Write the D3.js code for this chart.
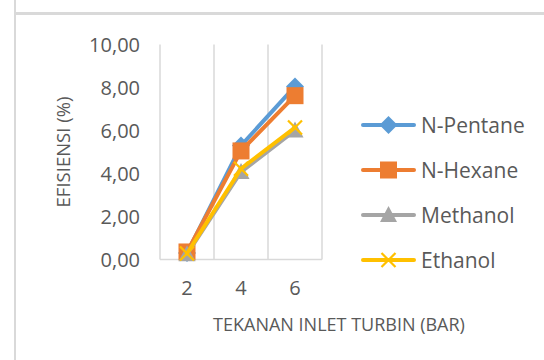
<!DOCTYPE html>
<html>
<head>
<meta charset="utf-8">
<script src="https://cdn.jsdelivr.net/npm/d3@7"></script>
<style>
  html, body { margin: 0; padding: 0; background: #fff; }
  svg { display: block; }
  text { font-family: "Open Sans", Lato, sans-serif; fill: #595959; }
</style>
</head>
<body>
<script>
// Inlet pressure categories (bar) and efficiency (%) per working fluid
const pressures = [2, 4, 6];
const seriesNames = ["N-Pentane", "N-Hexane", "Methanol", "Ethanol"];
const nPentane = [0.30, 5.30, 8.05];
const nHexane  = [0.35, 5.05, 7.62];
const methanol = [0.25, 4.07, 6.00];
const ethanol  = [0.28, 4.22, 6.14];
const yTicks = [0, 2, 4, 6, 8, 10];
const colors = ["#5B9BD5", "#ED7D31", "#A5A5A5", "#FFC000"];
const markers = ["diamond", "square", "triangle", "cross"];

const W = 544, H = 360;
const svg = d3.select("body").append("svg").attr("width", W).attr("height", H);

// chart frame edges
svg.append("line").attr("x1", 15).attr("x2", 15).attr("y1", 0).attr("y2", H)
  .attr("stroke", "#d9d9d9").attr("stroke-width", 2);
svg.append("line").attr("x1", 14).attr("x2", W).attr("y1", 13.5).attr("y2", 13.5)
  .attr("stroke", "#d9d9d9").attr("stroke-width", 3);

const x = d3.scaleBand().domain(pressures).range([160, 322]);
const y = d3.scaleLinear().domain([0, 10]).range([259.5, 44.5]);

// vertical gridlines at category boundaries
const edges = pressures.map(p => x(p)).concat([x.range()[1]]);
svg.append("g").selectAll("line").data(edges).join("line")
  .attr("x1", d => d).attr("x2", d => d)
  .attr("y1", y(10)).attr("y2", y(0))
  .attr("stroke", "#d9d9d9").attr("stroke-width", 1.5);

// horizontal axis line
svg.append("line").attr("x1", x.range()[0]).attr("x2", x.range()[1])
  .attr("y1", y(0)).attr("y2", y(0))
  .attr("stroke", "#d9d9d9").attr("stroke-width", 1.5);

// y tick labels
const fmt = v => d3.format(".2f")(v).replace(".", ",");
svg.append("g").selectAll("text").data(yTicks).join("text")
  .attr("x", 140).attr("y", d => y(d)).attr("dy", "0.36em")
  .attr("text-anchor", "end").style("font-size", "20px")
  .text(fmt);

// x tick labels
svg.append("g").selectAll("text").data(pressures).join("text")
  .attr("x", d => x(d) + x.bandwidth() / 2).attr("y", 288).attr("dy", "0.36em")
  .attr("text-anchor", "middle").style("font-size", "20px")
  .text(d => d);

// axis titles
svg.append("text").attr("x", 339).attr("y", 325).attr("dy", "0.36em")
  .attr("text-anchor", "middle").style("font-size", "18px")
  .text("TEKANAN INLET TURBIN (BAR)");
svg.append("text").attr("transform", "translate(63,152) rotate(-90)").attr("dy", "0.36em")
  .attr("text-anchor", "middle").style("font-size", "18.5px")
  .text("EFISIENSI (%)");

// marker drawing
function drawMarker(g, type, color) {
  if (type === "diamond") {
    g.append("path").attr("d", "M0,-9L9,0L0,9L-9,0Z").attr("fill", color);
  } else if (type === "square") {
    g.append("rect").attr("x", -8.5).attr("y", -8.5).attr("width", 17).attr("height", 17)
      .attr("fill", color);
  } else if (type === "triangle") {
    g.append("path").attr("d", "M0,-9L8.5,7L-8.5,7Z").attr("fill", color);
  } else {
    g.append("path").attr("d", "M-7,-7L7,7M-7,7L7,-7").attr("stroke", color)
      .attr("stroke-width", 2.2).attr("fill", "none");
  }
}

const allSeries = [nPentane, nHexane, methanol, ethanol];
const line = d3.line()
  .x((d, i) => x(pressures[i]) + x.bandwidth() / 2)
  .y(d => y(d));

allSeries.forEach((vals, s) => {
  const g = svg.append("g");
  g.append("path").datum(vals).attr("d", line)
    .attr("fill", "none").attr("stroke", colors[s]).attr("stroke-width", 4)
    .attr("stroke-linejoin", "round").attr("stroke-linecap", "round");
  vals.forEach((v, i) => {
    const m = g.append("g").attr("transform",
      `translate(${x(pressures[i]) + x.bandwidth() / 2},${y(v)})`);
    drawMarker(m, markers[s], colors[s]);
  });
});

// legend
const legend = svg.append("g");
seriesNames.forEach((name, s) => {
  const ly = 125 + s * 45;
  const g = legend.append("g");
  g.append("line").attr("x1", 363).attr("x2", 414).attr("y1", ly).attr("y2", ly)
    .attr("stroke", colors[s]).attr("stroke-width", 4).attr("stroke-linecap", "round");
  const m = g.append("g").attr("transform", `translate(388.5,${ly})`);
  drawMarker(m, markers[s], colors[s]);
  g.append("text").attr("x", 421).attr("y", ly).attr("dy", "0.36em")
    .style("font-size", "21px").text(name);
});
</script>
</body>
</html>
